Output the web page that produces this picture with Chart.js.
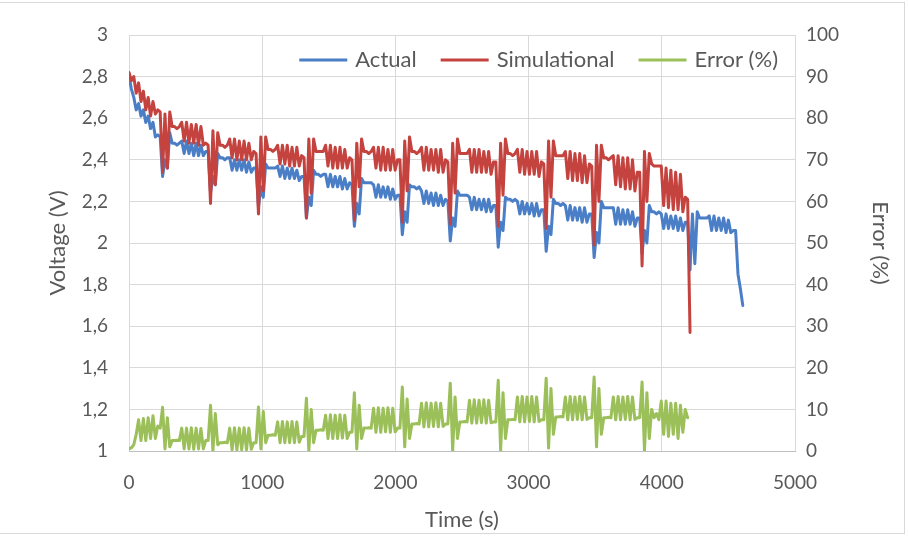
<!DOCTYPE html>
<html>
<head>
<meta charset="utf-8">
<script src="https://cdn.jsdelivr.net/npm/chart.js@4.4.0/dist/chart.umd.min.js"></script>
<style>
  html, body { margin: 0; padding: 0; background: #fff; }
  #wrap { width: 908px; height: 537px; }
</style>
</head>
<body>
<div id="wrap"><canvas id="chart" width="908" height="537"></canvas></div>
<script>
// sample interval of the logger, seconds
const STEP = 18;

// measured cell voltage (V), one value per sample
const actual = [
  2.80, 2.74, 2.70, 2.64, 2.67, 2.61, 2.64, 2.58, 2.61, 2.55, 2.58, 2.51, 2.52, 2.51,
  2.32, 2.40, 2.36, 2.53, 2.48, 2.48, 2.47, 2.48, 2.49, 2.43, 2.49, 2.43, 2.48, 2.42, 2.48, 2.42, 2.47, 2.42, 2.44, 2.44,
  2.24, 2.32, 2.28, 2.43, 2.41, 2.41, 2.40, 2.41, 2.41, 2.35, 2.40, 2.35, 2.40, 2.35, 2.40, 2.34, 2.39, 2.34, 2.36, 2.36,
  2.17, 2.27, 2.22, 2.38, 2.36, 2.36, 2.36, 2.36, 2.37, 2.32, 2.37, 2.31, 2.36, 2.31, 2.36, 2.31, 2.35, 2.30, 2.32, 2.32,
  2.12, 2.22, 2.18, 2.35, 2.33, 2.33, 2.32, 2.33, 2.33, 2.27, 2.33, 2.27, 2.32, 2.27, 2.32, 2.26, 2.31, 2.26, 2.29, 2.28,
  2.08, 2.19, 2.14, 2.31, 2.29, 2.29, 2.29, 2.29, 2.28, 2.22, 2.28, 2.22, 2.27, 2.22, 2.27, 2.21, 2.26, 2.21, 2.23, 2.23,
  2.04, 2.15, 2.10, 2.28, 2.27, 2.27, 2.26, 2.27, 2.25, 2.19, 2.25, 2.19, 2.24, 2.18, 2.24, 2.18, 2.23, 2.18, 2.21, 2.20,
  2.01, 2.12, 2.08, 2.25, 2.23, 2.23, 2.23, 2.23, 2.22, 2.16, 2.22, 2.16, 2.21, 2.16, 2.21, 2.15, 2.21, 2.15, 2.18, 2.18,
  1.98, 2.10, 2.06, 2.22, 2.21, 2.21, 2.20, 2.21, 2.20, 2.14, 2.20, 2.14, 2.19, 2.14, 2.19, 2.13, 2.19, 2.13, 2.16, 2.16,
  1.96, 2.08, 2.04, 2.21, 2.19, 2.19, 2.18, 2.19, 2.18, 2.11, 2.18, 2.11, 2.17, 2.11, 2.17, 2.10, 2.17, 2.10, 2.14, 2.14,
  1.93, 2.05, 2.00, 2.20, 2.17, 2.17, 2.17, 2.17, 2.17, 2.09, 2.17, 2.09, 2.16, 2.09, 2.16, 2.09, 2.15, 2.08, 2.12, 2.12,
  1.95, 2.06, 2.00, 2.18, 2.15, 2.15, 2.14, 2.15, 2.14, 2.07, 2.14, 2.07, 2.13, 2.07, 2.13, 2.06, 2.12, 2.06, 2.10, 2.10,
  1.87, 2.14, 1.90, 2.15, 2.12, 2.12, 2.12, 2.12, 2.13, 2.06, 2.13, 2.06, 2.12, 2.06, 2.12, 2.05, 2.11, 2.05, 2.06, 2.06,
  1.85, 1.78, 1.70
];

// model output (V)
const simulated = [
  2.82, 2.78, 2.80, 2.72, 2.77, 2.68, 2.73, 2.64, 2.70, 2.61, 2.68, 2.62, 2.64, 2.63,
  2.34, 2.62, 2.36, 2.63, 2.56, 2.56, 2.55, 2.56, 2.58, 2.49, 2.58, 2.48, 2.57, 2.48, 2.57, 2.47, 2.56, 2.47, 2.48, 2.47,
  2.19, 2.54, 2.28, 2.53, 2.47, 2.47, 2.46, 2.47, 2.50, 2.41, 2.50, 2.40, 2.49, 2.40, 2.49, 2.40, 2.48, 2.40, 2.44, 2.43,
  2.14, 2.51, 2.25, 2.51, 2.45, 2.45, 2.44, 2.45, 2.47, 2.38, 2.47, 2.38, 2.47, 2.37, 2.46, 2.37, 2.46, 2.37, 2.42, 2.41,
  2.12, 2.50, 2.24, 2.50, 2.44, 2.44, 2.44, 2.44, 2.47, 2.37, 2.47, 2.36, 2.46, 2.36, 2.46, 2.36, 2.45, 2.36, 2.41, 2.40,
  2.11, 2.48, 2.27, 2.50, 2.44, 2.44, 2.43, 2.44, 2.46, 2.36, 2.46, 2.35, 2.46, 2.35, 2.45, 2.35, 2.45, 2.35, 2.40, 2.40,
  2.10, 2.49, 2.25, 2.51, 2.44, 2.44, 2.43, 2.44, 2.46, 2.35, 2.46, 2.35, 2.45, 2.35, 2.45, 2.34, 2.45, 2.34, 2.40, 2.39,
  2.09, 2.48, 2.24, 2.50, 2.43, 2.43, 2.43, 2.43, 2.45, 2.34, 2.45, 2.34, 2.45, 2.34, 2.44, 2.34, 2.44, 2.33, 2.39, 2.39,
  2.08, 2.48, 2.23, 2.50, 2.43, 2.43, 2.42, 2.43, 2.45, 2.34, 2.45, 2.33, 2.44, 2.33, 2.44, 2.33, 2.44, 2.32, 2.39, 2.38,
  2.07, 2.49, 2.22, 2.49, 2.42, 2.42, 2.42, 2.42, 2.44, 2.31, 2.44, 2.30, 2.43, 2.30, 2.43, 2.29, 2.42, 2.29, 2.38, 2.37,
  1.99, 2.47, 2.20, 2.47, 2.41, 2.41, 2.40, 2.41, 2.42, 2.28, 2.42, 2.27, 2.41, 2.26, 2.41, 2.26, 2.40, 2.25, 2.34, 2.34,
  1.89, 2.44, 2.20, 2.43, 2.38, 2.37, 2.37, 2.37, 2.37, 2.18, 2.36, 2.17, 2.35, 2.16, 2.34, 2.16, 2.33, 2.15, 2.22, 2.21,
  1.57
];

// relative error between the two (%)
const errorPct = [
  0.5, 0.8, 1.5, 4, 7.5, 2.5, 7.8, 2.5, 8, 3, 8.5, 3, 6, 5.5,
  10.5, 0.5, 8, 1, 2.5, 2.5, 2.6, 2.5, 5.5, 0.5, 5.5, 0.5, 5.6, 0.4, 5.5, 0.5, 5.4, 0.5, 2.5, 2.5,
  11, 0, 9, 1.5, 2, 2, 2.1, 2, 5.5, 0.3, 5.6, 0.3, 5.5, 0.3, 5.6, 0.3, 5.5, 0.4, 2, 2,
  10.6, 0.5, 9.5, 2, 3.8, 3.8, 3.9, 3.8, 7, 2, 7.1, 2, 7, 2, 7.1, 2, 7, 2.1, 3.5, 3.5,
  12.7, 0, 10, 2, 5, 5, 5.1, 5, 8.6, 3, 8.7, 3, 8.6, 3, 8.7, 3.1, 8.6, 3, 4.5, 4.5,
  14, 0.5, 11, 3, 5.5, 5.5, 5.6, 5.5, 10.3, 4.5, 10.4, 4.5, 10.3, 4.6, 10.4, 4.5, 10.3, 4.6, 5.5, 5.5,
  15.4, 1, 12.5, 3, 6.5, 6.5, 6.6, 6.5, 11.5, 5.8, 11.6, 5.8, 11.5, 5.9, 11.6, 5.8, 11.5, 5.9, 6.5, 6.5,
  16.3, 0, 13, 3, 7, 7, 7.1, 7, 12.2, 6.7, 12.3, 6.7, 12.2, 6.8, 12.3, 6.7, 12.2, 6.8, 7, 7,
  17, 0.2, 14, 3, 7.5, 7.5, 7.6, 7.5, 13, 7, 13.1, 7, 13, 7.1, 13.1, 7, 13, 7.1, 7.5, 7.5,
  17.5, 0.7, 15, 4, 8.2, 8.2, 8.3, 8.2, 13, 7.5, 13.1, 7.5, 13, 7.6, 13.1, 7.5, 13, 7.6, 8, 8,
  17.8, 1, 15, 4, 8, 8, 8.1, 8, 13, 7.5, 13.1, 7.5, 13, 7.6, 13.1, 7.5, 13, 7.6, 8, 8,
  16.6, 0, 14, 3, 10, 8, 9, 7.5, 12, 4, 12, 3.5, 11.5, 4, 11.5, 3, 11, 4.5, 10, 8
];

const seriesNames = ["Actual", "Simulational", "Error (%)"];
const timeTicks = [0, 1000, 2000, 3000, 4000, 5000];

const TEXT = "#595959";
const GRID = "#d9d9d9";
const FONT = "Lato, 'Open Sans', sans-serif";

const toPoints = (vals) => vals.map((v, i) => ({ x: i * STEP, y: v }));

// white background and a light frame round the figure
const framePlugin = {
  id: "frame",
  beforeDraw(chart) {
    const c = chart.ctx;
    c.save();
    c.fillStyle = "#fff";
    c.fillRect(0, 0, chart.width, chart.height);
    c.strokeStyle = "#d9d9d9";
    c.lineWidth = 1;
    c.strokeRect(-1.5, 2.5, 906, 531);
    c.restore();
  },
};

// one-row legend tucked inside the top right of the plot, Excel style
const insetLegend = {
  id: "insetLegend",
  afterDatasetsDraw(chart, args, opts) {
    const c = chart.ctx;
    const area = chart.chartArea;
    const items = chart.data.datasets;
    c.save();
    c.font = `${opts.size}px ${FONT}`;
    c.textBaseline = "middle";
    const widths = items.map((d) => c.measureText(d.label).width);
    const total = widths.reduce((a, w) => a + opts.line + opts.gap + w, 0) + opts.spacing * (items.length - 1);
    let x = area.right - opts.right - total;
    const y = area.top + opts.top;
    items.forEach((d, i) => {
      c.strokeStyle = d.borderColor;
      c.lineWidth = 3;
      c.beginPath();
      c.moveTo(x, y);
      c.lineTo(x + opts.line, y);
      c.stroke();
      x += opts.line + opts.gap;
      c.fillStyle = TEXT;
      c.fillText(d.label, x, y);
      x += widths[i] + opts.spacing;
    });
    c.restore();
  },
};

const lineStyle = (color) => ({
  borderColor: color,
  backgroundColor: color,
  borderWidth: 3,
  pointRadius: 0,
  tension: 0,
  fill: false,
  borderJoinStyle: "round",
  borderCapStyle: "round",
});

new Chart(document.getElementById("chart"), {
  type: "line",
  data: {
    datasets: [
      { label: seriesNames[0], data: toPoints(actual), yAxisID: "y", order: 3, ...lineStyle("#4a7ec6") },
      { label: seriesNames[1], data: toPoints(simulated), yAxisID: "y", order: 2, ...lineStyle("#c4433f") },
      { label: seriesNames[2], data: toPoints(errorPct), yAxisID: "y1", order: 1, ...lineStyle("#9bbf59") },
    ],
  },
  options: {
    responsive: false,
    animation: false,
    events: [],
    layout: { padding: { top: 35, left: 0, right: 0, bottom: 0 } },
    plugins: {
      tooltip: { enabled: false },
      legend: { display: false },
      insetLegend: { size: 22, line: 48, gap: 8, spacing: 24, right: 17, top: 25 },
    },
    scales: {
      x: {
        type: "linear",
        min: 0,
        max: 5000,
        afterBuildTicks: (s) => { s.ticks = timeTicks.map((v) => ({ value: v })); },
        afterFit: (s) => { s.height = 86; },
        grid: { color: GRID, drawTicks: false },
        border: { color: "#bfbfbf" },
        ticks: { color: TEXT, padding: 20, font: { family: FONT, size: 19 }, callback: (v) => String(v) },
        title: { display: true, text: "Time (s)", color: TEXT, padding: { top: 0, bottom: 4 }, font: { family: FONT, size: 22 } },
      },
      y: {
        position: "left",
        min: 1,
        max: 3,
        afterFit: (s) => { s.width = 129; },
        grid: { color: GRID, drawTicks: false },
        border: { display: false },
        ticks: {
          stepSize: 0.2,
          color: TEXT,
          padding: 21,
          font: { family: FONT, size: 19 },
          callback: (v) => String(Number(v.toFixed(1))).replace(".", ","),
        },
        title: { display: true, text: "Voltage (V)", color: TEXT, padding: { top: 45, bottom: 0 }, font: { family: FONT, size: 22 } },
      },
      y1: {
        position: "right",
        min: 0,
        max: 100,
        afterFit: (s) => { s.width = 113; },
        grid: { display: false, drawTicks: false },
        border: { display: false },
        ticks: { stepSize: 10, color: TEXT, padding: 11, font: { family: FONT, size: 19 } },
        title: { display: true, text: "Error (%)", color: TEXT, padding: { top: 15, bottom: 0 }, font: { family: FONT, size: 22 } },
      },
    },
  },
  plugins: [framePlugin, insetLegend],
});
</script>
</body>
</html>
